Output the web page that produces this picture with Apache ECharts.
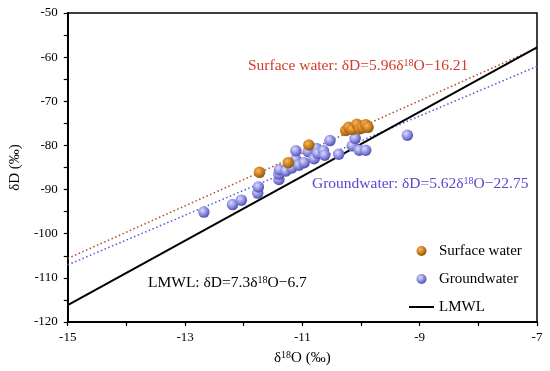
<!DOCTYPE html>
<html><head><meta charset="utf-8">
<script src="https://cdn.jsdelivr.net/npm/echarts@6/dist/echarts.min.js"></script>
<style>html,body{margin:0;padding:0;background:#fff}#c{width:550px;height:371px}</style>
</head><body><div id="c"></div>
<script>
// δ18O, δD pairs
const surfaceWater = [
  [-11.73,-86.1],[-11.24,-83.9],[-10.89,-79.9],[-10.26,-76.6],[-10.21,-75.9],
  [-10.15,-76.4],[-10.07,-75.2],[-10.02,-76.2],[-9.97,-76.0],[-9.92,-75.3],[-9.88,-75.9]
];
const groundwater = [
  [-12.68,-95.1],[-12.19,-93.4],[-12.04,-92.4],[-11.76,-90.8],[-11.75,-89.4],
  [-11.40,-87.7],[-11.40,-86.5],[-11.39,-85.5],[-11.28,-85.8],[-11.18,-85.1],
  [-11.11,-83.2],[-11.06,-84.5],[-11.11,-81.2],[-10.97,-83.9],[-10.90,-81.4],
  [-10.80,-83.0],[-10.76,-80.7],[-10.74,-81.8],[-10.64,-81.2],[-10.62,-82.2],
  [-10.53,-78.9],[-10.38,-82.0],[-10.15,-80.1],[-10.10,-78.4],[-10.03,-81.1],
  [-9.92,-81.1],[-9.21,-77.7]
];
const xRange = [-15, -7];
const surfaceFit = [5.96, -16.21];
const groundFit = [5.62, -22.75];
const lmwlFit = [7.3, -6.7];
const xTicks = [-15, -13, -11, -9, -7];

const fitLine = (f) => xRange.map(x => [x, f[0] * x + f[1]]);
const SERIF = '"Liberation Serif","Times New Roman",serif';

const sphere = (c0, c1, c2) => new echarts.graphic.RadialGradient(0.38, 0.35, 0.7, [
  {offset: 0, color: c0}, {offset: 0.55, color: c1}, {offset: 1, color: c2}
]);

const eqText = (txt1, txt2, color) => ({
  text: '{n|' + txt1 + '}{s|18}{n|' + txt2 + '}',
  rich: {
    n: {fontSize: 15.5, fontFamily: SERIF, fill: color, color: color, lineHeight: 16, verticalAlign: 'bottom'},
    s: {fontSize: 10, fontFamily: SERIF, fill: color, color: color, lineHeight: 16, verticalAlign: 'top', padding: [0, 0, 6, 0]}
  }
});

const chart = echarts.init(document.getElementById('c'), null, {renderer: 'canvas'});
chart.setOption({
  animation: false,
  backgroundColor: '#fff',
  grid: {left: 63, right: 13, top: 13, bottom: 49, show: true, borderColor: '#000', borderWidth: 1.5},
  xAxis: {
    type: 'value', min: -15, max: -7, interval: 1,
    name: '{n|δ}{s|18}{n|O (‰)}', nameLocation: 'middle', nameGap: 28,
    nameTextStyle: {rich: {
      n: {fontSize: 15, fontFamily: SERIF, color: '#000', lineHeight: 16, verticalAlign: 'bottom'},
      s: {fontSize: 10, fontFamily: SERIF, color: '#000', lineHeight: 16, verticalAlign: 'top', padding: [0, 0, 6, 0]}
    }},
    axisLine: {onZero: false, lineStyle: {color: '#000', width: 2}},
    axisTick: {inside: false, length: 4, lineStyle: {color: '#000', width: 1.2}},
    axisLabel: {
      fontSize: 13, fontFamily: SERIF, color: '#000', margin: 9,
      formatter: v => xTicks.indexOf(Math.round(v)) >= 0 ? String(Math.round(v)) : ''
    },
    splitLine: {show: false}
  },
  yAxis: {
    type: 'value', min: -120, max: -50, interval: 5,
    name: 'δD (‰)', nameLocation: 'middle', nameGap: 35,
    nameTextStyle: {fontSize: 15, fontFamily: SERIF, color: '#000'},
    axisLine: {onZero: false, lineStyle: {color: '#000', width: 2}},
    axisTick: {inside: false, length: 4, lineStyle: {color: '#000', width: 1.2}},
    axisLabel: {
      fontSize: 13, fontFamily: SERIF, color: '#000', margin: 10,
      formatter: v => (Math.round(v) % 10 === 0) ? String(Math.round(v)) : ''
    },
    splitLine: {show: false}
  },
  legend: {
    orient: 'vertical', left: 404, top: 238, itemWidth: 25, itemHeight: 10, itemGap: 12,
    textStyle: {fontSize: 15, fontFamily: SERIF, color: '#000', lineHeight: 16},
    data: ['Surface water', 'Groundwater',
      {name: 'LMWL', icon: 'path://M0,0 L25,0 L25,2 L0,2 Z'}]
  },
  series: [
    {name: 'Surface fit', type: 'line', data: fitLine(surfaceFit), symbol: 'none', silent: true,
     lineStyle: {color: '#b04a2a', width: 1.5, type: [1.5, 2.5]}, z: 1},
    {name: 'Groundwater fit', type: 'line', data: fitLine(groundFit), symbol: 'none', silent: true,
     lineStyle: {color: '#5656d8', width: 1.5, type: [1.5, 2.5]}, z: 1},
    {name: 'LMWL', type: 'line', data: fitLine(lmwlFit), symbol: 'none', silent: true,
     lineStyle: {color: '#000', width: 2}, itemStyle: {color: '#000'}, z: 2},
    {name: 'Groundwater', type: 'scatter', data: groundwater, symbolSize: 11.5, z: 3,
     itemStyle: {color: sphere('#dcdcff', '#8a8ae0', '#4848a6'), opacity: 1}},
    {name: 'Surface water', type: 'scatter', data: surfaceWater, symbolSize: 11.5, z: 4,
     itemStyle: {color: sphere('#f5b860', '#cf7a1a', '#6e5a12'), opacity: 1}}
  ],
  graphic: [
    {type: 'text', left: 248, top: 58, style: eqText('Surface water: δD=5.96δ', 'O−16.21', '#d23a2a')},
    {type: 'text', left: 312, top: 176, style: eqText('Groundwater: δD=5.62δ', 'O−22.75', '#5548d0')},
    {type: 'text', left: 148, top: 275, style: eqText('LMWL: δD=7.3δ', 'O−6.7', '#000')}
  ]
});
</script></body></html>
